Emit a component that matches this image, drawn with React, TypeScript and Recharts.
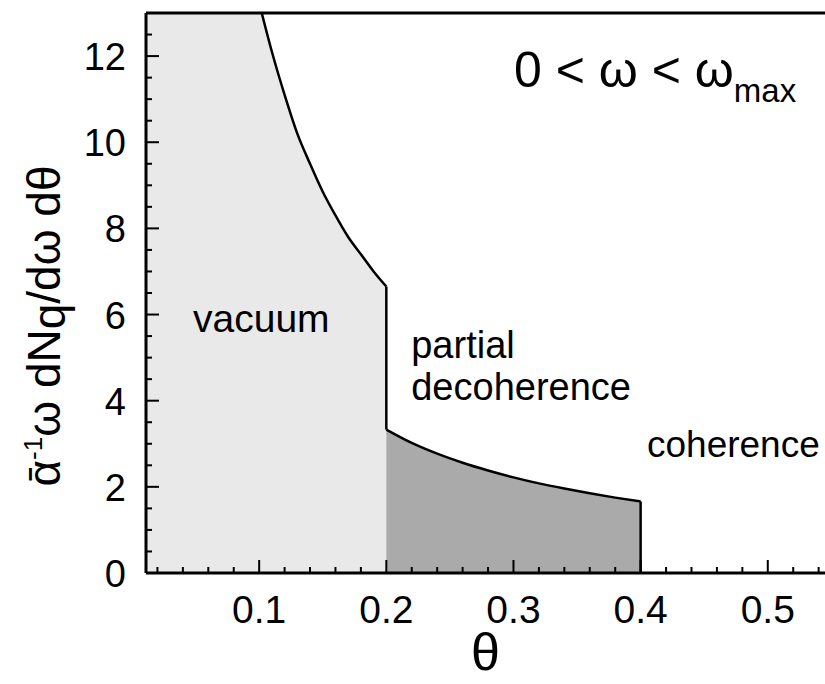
import {
  ComposedChart,
  Area,
  Line,
  XAxis,
  YAxis,
  ReferenceLine,
  ReferenceDot,
} from "recharts";

// vacuum region: theta vs spectrum (clipped at the top of the frame)
const vacuumTheta = [0.011, 0.102, 0.11, 0.12, 0.13, 0.14, 0.15, 0.16, 0.17, 0.18, 0.19, 0.2];
const vacuumValue = [13, 13, 12.1, 11.1, 10.2, 9.5, 8.85, 8.3, 7.8, 7.4, 7.0, 6.65];

// partial decoherence region
const partialTheta = [0.2, 0.22, 0.24, 0.26, 0.28, 0.3, 0.32, 0.34, 0.36, 0.38, 0.4];
const partialValue = [3.33, 3.02, 2.77, 2.56, 2.38, 2.22, 2.08, 1.96, 1.85, 1.75, 1.66];

const xMajor = [0.1, 0.2, 0.3, 0.4, 0.5];
const xTicks = [0.02, 0.04, 0.06, 0.08, 0.1, 0.12, 0.14, 0.16, 0.18, 0.2, 0.22, 0.24, 0.26, 0.28, 0.3,
  0.32, 0.34, 0.36, 0.38, 0.4, 0.42, 0.44, 0.46, 0.48, 0.5, 0.52, 0.54];
const yMajor = [0, 2, 4, 6, 8, 10, 12];
const yTicks = [0, 0.5, 1, 1.5, 2, 2.5, 3, 3.5, 4, 4.5, 5, 5.5, 6, 6.5, 7, 7.5, 8, 8.5, 9, 9.5, 10,
  10.5, 11, 11.5, 12, 12.5];

const vacuumData = vacuumTheta.map((t, i) => ({ t, v: vacuumValue[i] }));
const partialData = partialTheta.map((t, i) => ({ t, v: partialValue[i] }));
const vacuumCurve = vacuumData.slice(1);
// vertical edges at the region boundaries
const edge1 = [
  { t: 0.2, v: vacuumValue[vacuumValue.length - 1] },
  { t: 0.2, v: partialValue[0] },
];
const edge2 = [
  { t: 0.4, v: partialValue[partialValue.length - 1] },
  { t: 0.4, v: 0 },
];

const font = "'Liberation Sans', Arial, Helvetica, sans-serif";

const isMajor = (v: number, list: number[]) => list.some((m) => Math.abs(m - v) < 1e-6);

function XTick(props: any) {
  const { x, y, payload } = props;
  const major = isMajor(payload.value, xMajor);
  return (
    <g>
      <line x1={x} x2={x} y1={y} y2={y - (major ? 13 : 6)} stroke="#000" strokeWidth={2} />
      {major && (
        <text x={x} y={y + 50} textAnchor="middle" fontSize={39} fontFamily={font} fill="#000">
          {payload.value}
        </text>
      )}
    </g>
  );
}

function YTick(props: any) {
  const { x, y, payload } = props;
  const major = isMajor(payload.value, yMajor);
  return (
    <g>
      <line x1={x} x2={x + (major ? 13 : 6)} y1={y} y2={y} stroke="#000" strokeWidth={2} />
      {major && (
        <text x={x - 20} y={y + 14} textAnchor="end" fontSize={38} fontFamily={font} fill="#000">
          {payload.value}
        </text>
      )}
    </g>
  );
}

function Note({ viewBox, lines, size }: any) {
  const { x, y } = viewBox;
  return (
    <text x={x} y={y} fontSize={size} fontFamily={font} fill="#000">
      {lines.map((l: string, i: number) => (
        <tspan key={i} x={x} dy={i === 0 ? 0 : 42}>
          {l}
        </tspan>
      ))}
    </text>
  );
}

function YLabel() {
  return (
    <text
      transform="translate(60,326) rotate(-90)"
      textAnchor="middle"
      fontSize={46}
      fontFamily={font}
      fill="#000"
    >
      <tspan>{"\u1FB1"}</tspan>
      <tspan fontSize={26} dy={-18}>-1</tspan>
      <tspan dy={18}>ω dN</tspan>
      <tspan dy={5}>q</tspan>
      <tspan dy={-5}>/dω dθ</tspan>
    </text>
  );
}

function XLabel(props: any) {
  const { viewBox } = props;
  return (
    <text
      x={viewBox.x + viewBox.width / 2}
      y={670}
      textAnchor="middle"
      fontSize={52}
      fontFamily={font}
      fill="#000"
    >
      θ
    </text>
  );
}

const curveLine = (data: any[], key: string, type: "monotone" | "linear") => (
  <Line
    key={key}
    data={data}
    dataKey="v"
    type={type}
    stroke="#000"
    strokeWidth={2.5}
    dot={false}
    activeDot={false}
    isAnimationActive={false}
  />
);

export default function App() {
  return (
    <div style={{ position: "absolute", left: 0, top: 0, background: "#fff" }}>
      <ComposedChart width={825} height={684} margin={{ top: 13, right: 0, bottom: 0, left: 0 }}>
        <XAxis
          type="number"
          dataKey="t"
          domain={[0.011, 0.545]}
          ticks={xTicks}
          interval={0}
          tick={<XTick />}
          tickSize={0}
          tickMargin={0}
          height={111}
          allowDataOverflow
          axisLine={{ stroke: "#000", strokeWidth: 3 }}
          label={<XLabel />}
        />
        <YAxis
          type="number"
          dataKey="v"
          domain={[0, 13]}
          ticks={yTicks}
          interval={0}
          tick={<YTick />}
          tickSize={0}
          tickMargin={0}
          width={146}
          allowDataOverflow
          axisLine={{ stroke: "#000", strokeWidth: 3 }}
          label={<YLabel />}
        />
        <Area
          data={vacuumData}
          dataKey="v"
          type="monotone"
          fill="#e9e9e9"
          fillOpacity={1}
          stroke="none"
          isAnimationActive={false}
        />
        <Area
          data={partialData}
          dataKey="v"
          type="monotone"
          fill="#aaaaaa"
          fillOpacity={1}
          stroke="none"
          isAnimationActive={false}
        />
        {curveLine(vacuumCurve, "c1", "monotone")}
        {curveLine(edge1, "e1", "linear")}
        {curveLine(partialData, "c2", "monotone")}
        {curveLine(edge2, "e2", "linear")}
        <ReferenceLine y={13} stroke="#000" strokeWidth={3} />
        <ReferenceDot x={0.048} y={5.59} r={0} label={<Note lines={["vacuum"]} size={39} />} />
        <ReferenceDot x={0.2196} y={4.99} r={0} label={<Note lines={["partial", "decoherence"]} size={38} />} />
        <ReferenceDot x={0.405} y={2.69} r={0} label={<Note lines={["coherence"]} size={37} />} />
        <ReferenceDot
          x={0.3004}
          y={11.28}
          r={0}
          label={(p: any) => (
            <text x={p.viewBox.x} y={p.viewBox.y} fontSize={50} fontFamily={font} fill="#000">
              <tspan>0 &lt; ω &lt; ω</tspan>
              <tspan fontSize={33} dy={15}>max</tspan>
            </text>
          )}
        />
      </ComposedChart>
    </div>
  );
}
